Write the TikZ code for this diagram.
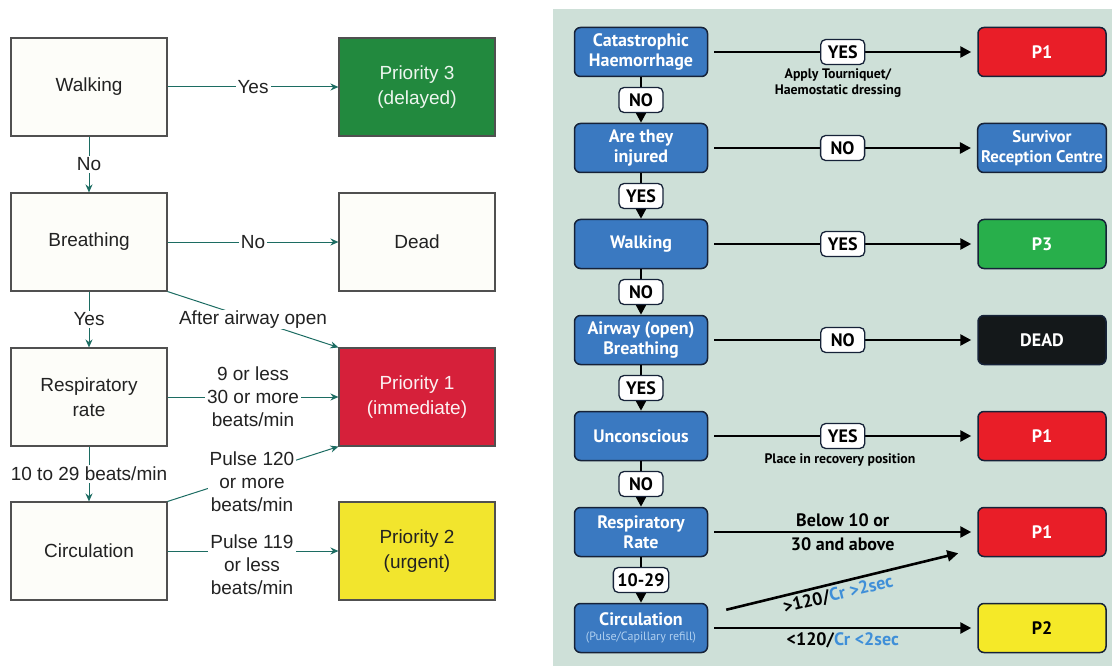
\documentclass[tikz,border=0pt]{standalone}
\usepackage{fontspec}
\setmainfont{Liberation Sans}
\newfontfamily\rfont{PT Sans}
\usetikzlibrary{arrows.meta,positioning,calc}
\definecolor{teal2}{RGB}{28,108,98}
\definecolor{lgray}{RGB}{80,80,80}
\definecolor{cream}{RGB}{253,253,249}
\definecolor{ltext}{RGB}{34,34,34}
\definecolor{p3green}{RGB}{34,137,62}
\definecolor{p1red}{RGB}{214,32,58}
\definecolor{p2yel}{RGB}{242,229,45}
\definecolor{rbg}{RGB}{206,224,216}
\definecolor{rblue}{RGB}{58,121,193}
\definecolor{navy}{RGB}{22,34,56}
\definecolor{rred}{RGB}{233,30,40}
\definecolor{rgreen}{RGB}{40,175,75}
\definecolor{rblack}{RGB}{20,24,26}
\definecolor{ryel}{RGB}{245,233,40}
\definecolor{crblue}{RGB}{63,143,216}
\definecolor{refill}{RGB}{176,208,240}
\begin{document}
\begin{tikzpicture}[x=1pt,y=-1pt,
 lbox/.style={draw=lgray,line width=1.1pt,fill=cream,minimum width=156pt,minimum height=98pt,align=center,font=\fontsize{19}{24.5}\selectfont,text=ltext},
 larr/.style={draw=teal2,line width=1pt,-{Stealth[length=8pt,width=7pt]},color=teal2},
 llab/.style={fill=white,inner sep=2pt,align=center,font=\fontsize{19}{23}\selectfont,text=ltext},
 rbox/.style={draw=navy,line width=1.5pt,rounded corners=6pt,fill=rblue,minimum width=133pt,minimum height=49pt,align=center,text=white,font=\rfont\bfseries\fontsize{18}{20}\selectfont},
 obox/.style={rbox,minimum width=128pt},
 rarr/.style={line width=2.6pt,draw=black,-{Triangle[length=11pt,width=11pt]}},
 hsh/.style={shorten <=6pt,shorten >=6pt},
 tag/.style={draw=navy,line width=1.3pt,fill=white,rounded corners=5pt,minimum width=44pt,minimum height=25pt,inner xsep=4pt,inner ysep=1pt,font=\rfont\bfseries\fontsize{18}{20}\selectfont,text=black},
 note/.style={font=\rfont\bfseries\fontsize{13.8}{16}\selectfont,align=center,text=black},
 rlab/.style={font=\rfont\bfseries\fontsize{18}{24}\selectfont,align=center,text=black,inner sep=1pt}
]
\useasboundingbox (0,0) rectangle (1112,666);
% ---------- left panel ----------
\node[lbox] (lw) at (89,87) {Walking};
\node[lbox,fill=p3green,text=white!92!p3green] (lp3) at (417,87) {Priority 3\\(delayed)};
\node[lbox] (lb) at (89,242) {Breathing};
\node[lbox] (ld) at (417,242) {Dead};
\node[lbox] (lr) at (89,397) {Respiratory\\rate};
\node[lbox,fill=p1red,text=white!94!p1red] (lp1) at (417,397) {Priority 1\\(immediate)};
\node[lbox] (lc) at (89,551) {Circulation};
\node[lbox,fill=p2yel] (lp2) at (417,551) {Priority 2\\(urgent)};

\draw[larr] (lw) -- node[llab]{Yes} (lp3);
\draw[larr] (lw) -- node[llab]{No} (lb);
\draw[larr] (lb) -- node[llab]{No} (ld);
\draw[larr] (lb) -- node[llab]{Yes} (lr);
\draw[larr] (lb.south east) -- node[llab,inner sep=1pt]{After airway open} (lp1.north west);
\draw[larr] (lr) -- node[llab]{9 or less\\30 or more\\beats/min} (lp1);
\draw[larr] (lr) -- node[llab,inner xsep=0pt]{10 to 29 beats/min} (lc);
\draw[larr] (lc.north east) -- (lp1.south west);
\node[llab] (l120) at (252,482) {Pulse 120\\or more\\beats/min};
\draw[larr] (lc) -- (lp2);
\node[llab] (l119) at (252,565) {Pulse 119\\or less\\beats/min};

% ---------- right panel ----------
\fill[rbg] (553,9) rectangle (1112,666);
\node[rbox] (ch) at (641,52) {Catastrophic\\Haemorrhage};
\node[rbox] (inj) at (641,148) {Are they\\injured};
\node[rbox] (rw) at (641,244) {Walking};
\node[rbox] (ab) at (641,340) {Airway (open)\\Breathing};
\node[rbox] (un) at (641,436) {Unconscious};
\node[rbox] (rr) at (641,532) {Respiratory\\Rate};
\node[rbox] (ci) at (641,628) {Circulation\\[-5pt]{\fontsize{12}{13}\selectfont\mdseries\color{refill}(Pulse/Capillary refill)}};

\node[obox,fill=rred] (o1) at (1042,52) {P1};
\node[obox,font=\rfont\bfseries\fontsize{16.8}{20}\selectfont] (o2) at (1042,148) {Survivor\\Reception Centre};
\node[obox,fill=rgreen] (o3) at (1042,244) {P3};
\node[obox,fill=rblack] (o4) at (1042,340) {DEAD};
\node[obox,fill=rred] (o5) at (1042,436) {P1};
\node[obox,fill=rred] (o6) at (1042,532) {P1};
\node[obox,fill=ryel,text=black] (o7) at (1042,628) {P2};

\draw[rarr,hsh] (ch) -- node[tag]{YES} (o1);
\node[note] (n1) at (838,83) {Apply Tourniquet/\\Haemostatic dressing};
\draw[rarr] (ch) -- node[tag]{NO} (inj);
\draw[rarr,hsh] (inj) -- node[tag]{NO} (o2);
\draw[rarr] (inj) -- node[tag]{YES} (rw);
\draw[rarr,hsh] (rw) -- node[tag]{YES} (o3);
\draw[rarr] (rw) -- node[tag]{NO} (ab);
\draw[rarr,hsh] (ab) -- node[tag]{NO} (o4);
\draw[rarr] (ab) -- node[tag]{YES} (un);
\draw[rarr,hsh] (un) -- node[tag]{YES} (o5);
\node[note] (n2) at (840,460) {Place in recovery position};
\draw[rarr] (un) -- node[tag]{NO} (rr);
\draw[rarr,hsh] (rr) -- node[rlab]{Below 10 or\\30 and above} (o6);
\draw[rarr] (rr) -- node[tag]{10-29} (ci);
\draw[rarr] ([xshift=18pt,yshift=-7pt]ci.north east) -- node[pos=0.47,sloped,below=2pt,rlab]{>120/\textcolor{crblue}{Cr >2sec}} ([xshift=-19pt,yshift=4pt]o6.south west);
\draw[rarr,hsh] (ci) -- node[below=2pt,rlab]{<120/\textcolor{crblue}{Cr <2sec}} (o7);
\end{tikzpicture}
\end{document}
